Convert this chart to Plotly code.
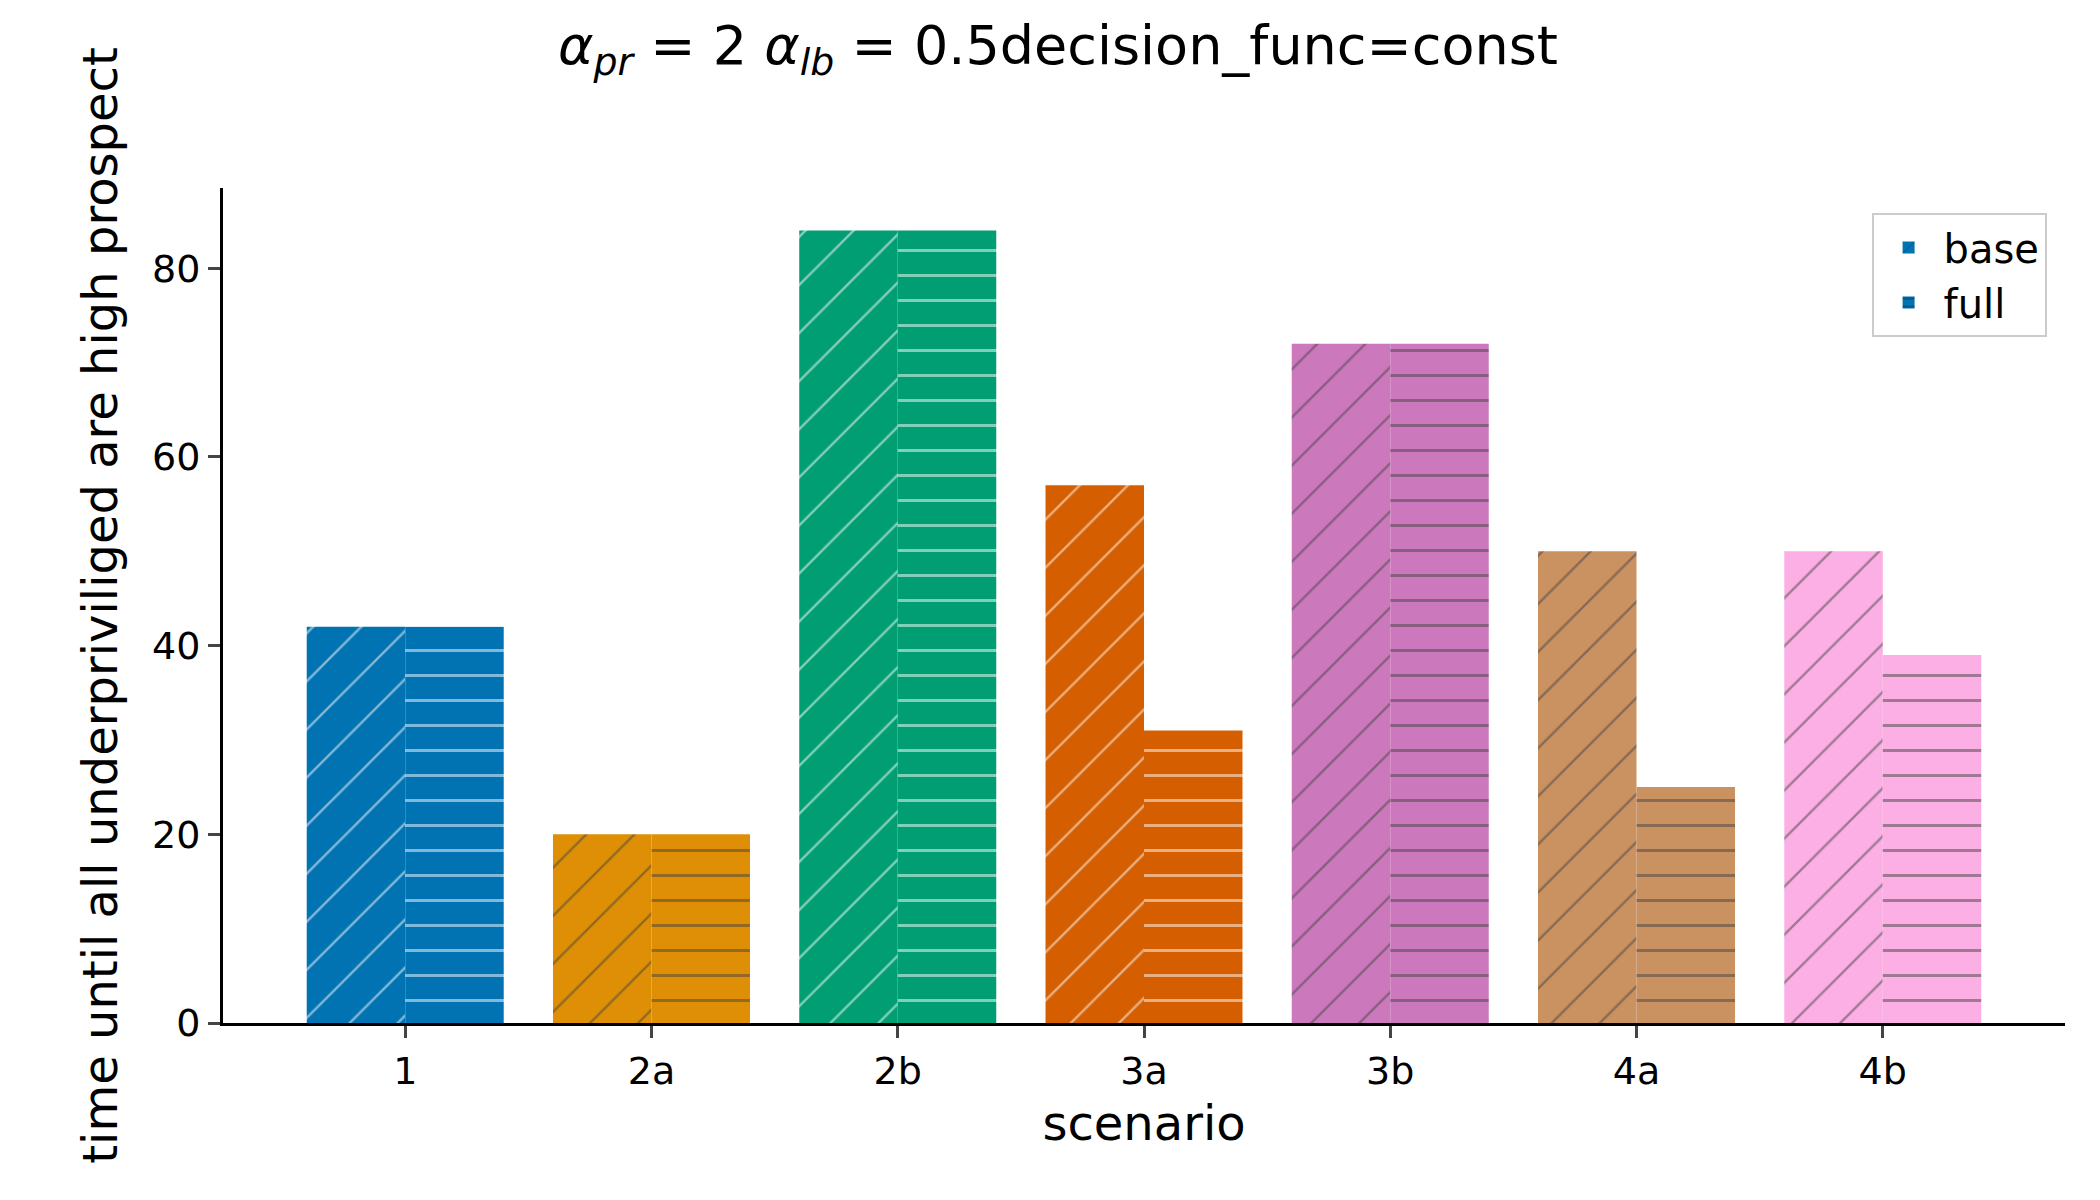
import plotly.graph_objects as go

scenarios = ["1", "2a", "2b", "3a", "3b", "4a", "4b"]
base = [42, 20, 84, 57, 72, 50, 50]
full = [42, 20, 84, 31, 72, 25, 39]
colors = ["#0173b2", "#de8f05", "#029e73", "#d55e00", "#cc78bc", "#ca9161", "#fbafe4"]
xs = list(range(len(scenarios)))

fig = go.Figure()
fig.add_bar(x=xs, y=base, name="base",
            marker=dict(color=colors, line=dict(width=0),
                        pattern=dict(shape="/", fgcolor="black", fillmode="overlay",
                                     size=34, solidity=0.07)))
fig.add_bar(x=xs, y=full, name="full",
            marker=dict(color=colors, line=dict(width=0),
                        pattern=dict(shape="-", fgcolor="black", fillmode="overlay",
                                     size=25, solidity=0.12)))

fig.update_layout(
    width=2100, height=1200, barmode="group", bargap=0.2, bargroupgap=0,
    plot_bgcolor="white", paper_bgcolor="white",
    font=dict(family="DejaVu Sans", size=40, color="black"),
    margin=dict(l=215, r=43, t=180, b=185),
    title=dict(text="<i>α</i><sub><i>pr</i></sub> = 2 <i>α</i><sub><i>lb</i></sub> = 0.5decision_func=const",
               x=0.5, xanchor="center", y=0.985, yanchor="top", font=dict(size=54)),
    xaxis=dict(tickvals=xs, ticktext=scenarios, range=[-0.74, 6.74], showline=True,
               linecolor="black", linewidth=3, ticks="outside", ticklen=12, tickwidth=3,
               tickfont=dict(size=38),
               title=dict(text="scenario", standoff=15), showgrid=False, zeroline=False),
    yaxis=dict(range=[0, 88.5], tickvals=[0, 20, 40, 60, 80], showline=True,
               linecolor="black", linewidth=3, ticks="outside", ticklen=12, tickwidth=3,
               tickfont=dict(size=38),
               title=dict(text="time until all underpriviliged are high prospect", standoff=20),
               showgrid=False, zeroline=False),
    legend=dict(x=0.99, y=0.97, xanchor="right", yanchor="top", bordercolor="#cccccc",
                borderwidth=2, bgcolor="white", font=dict(size=40), itemwidth=60),
)
fig.write_html("out.html")
